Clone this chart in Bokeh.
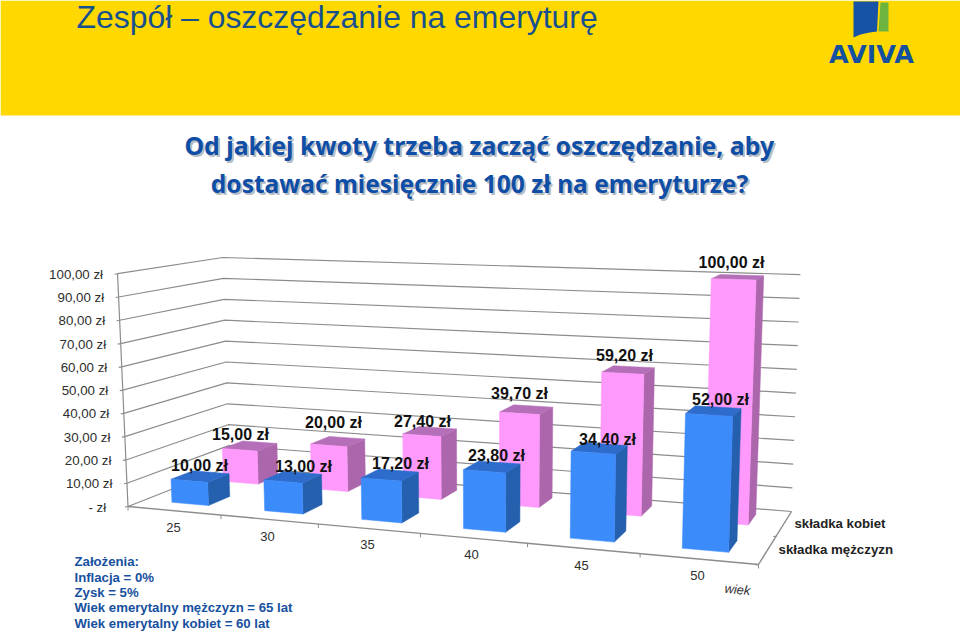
import numpy as np
from bokeh.plotting import figure, ColumnDataSource
from bokeh.models import Range1d
from bokeh.core.properties import value
from bokeh.embed import file_html
from bokeh.resources import INLINE

# ---------- data ----------
ages = ["25", "30", "35", "40", "45", "50"]
men = [10.0, 13.0, 17.2, 23.8, 34.4, 52.0]
women = [15.0, 20.0, 27.4, 39.7, 59.2, 100.0]
men_labels = ["10,00 zł", "13,00 zł", "17,20 zł", "23,80 zł", "34,40 zł", "52,00 zł"]
women_labels = ["15,00 zł", "20,00 zł", "27,40 zł", "39,70 zł", "59,20 zł", "100,00 zł"]
y_ticks = [0, 10, 20, 30, 40, 50, 60, 70, 80, 90, 100]
y_labels = ["-   zł", "10,00 zł", "20,00 zł", "30,00 zł", "40,00 zł", "50,00 zł",
            "60,00 zł", "70,00 zł", "80,00 zł", "90,00 zł", "100,00 zł"]
series_names = ["składka mężczyzn", "składka kobiet"]
header = "Zespół – oszczędzanie na emeryturę"
title_lines = ["Od jakiej kwoty trzeba  zacząć oszczędzanie, aby",
               "dostawać miesięcznie 100 zł na emeryturze?"]
notes = ["Założenia:", "Inflacja = 0%", "Zysk = 5%",
         "Wiek emerytalny mężczyzn = 65 lat", "Wiek emerytalny kobiet = 60 lat"]

# ---------- layout (page pixels) ----------
FLOOR = [(127.5, 506), (758, 564), (791, 511), (229, 466)]     # front-left, front-right, back-right, back-left
HEIGHTS = [234, 268, 238, 208]                                 # pixel height of value 100 over those corners
VANISH = (489, 8563)                                           # where the verticals meet
GAP = 0.30
MEN_DEPTH = (0.15, 0.36)
WOMEN_DEPTH = (0.66, 0.88)
men_label_xy = [(199, 465), (303, 466), (400, 463), (496, 455), (607, 439), (720, 399)]
women_label_xy = [(240, 434), (333, 422), (422, 421), (519, 393), (624, 355), (731, 262)]
age_label_xy = [(173, 527), (267, 536), (367, 544), (471, 554), (581, 565), (697, 575)]
note_y = [561, 577, 592, 607, 623]

BLUE = ("#3b8bfb", "#2d6ccb", "#2560ae")
PINK = ("#ff99fb", "#b56fb8", "#ac66ac")
BRAND = "#1450a0"
GRID = "#8c8c8c"


def homography(pts):
    src = [(0, 0), (1, 0), (1, 1), (0, 1)]
    rows = []
    for (u, v), (x, y) in zip(src, pts):
        rows.append([u, v, 1, 0, 0, 0, -u * x, -v * x, -x])
        rows.append([0, 0, 0, u, v, 1, -u * y, -v * y, -y])
    return np.linalg.svd(np.array(rows, float))[2][-1].reshape(3, 3)


H_FLOOR = homography(FLOOR)
HEIGHT_PLANE = np.linalg.lstsq(np.array([[x, y, 1] for x, y in FLOOR], float),
                               np.array(HEIGHTS, float), rcond=None)[0]


def project(cat, depth, val):
    """Category position (0..6), depth (0 front..1 back), value (0..100) -> page pixels."""
    a = H_FLOOR @ np.array([cat / 6, depth, 1.0])
    a = a[:2] / a[2]
    up = a - np.array(VANISH)
    up = up / np.hypot(*up)
    h = HEIGHT_PLANE @ np.array([a[0], a[1], 1.0])
    return tuple(a + up * h * val / 100)


def bar_faces(cat, depth, val, colors):
    u0, u1 = cat + GAP, cat + 1 - GAP
    d0, d1 = depth
    corners = {
        "front": [(u0, d0, 0), (u1, d0, 0), (u1, d0, val), (u0, d0, val)],
        "top": [(u0, d0, val), (u1, d0, val), (u1, d1, val), (u0, d1, val)],
        "side": [(u1, d0, 0), (u1, d1, 0), (u1, d1, val), (u1, d0, val)],
    }
    out = []
    for name, col in zip(("side", "top", "front"), (colors[2], colors[1], colors[0])):
        pts = [project(*c) for c in corners[name]]
        out.append(([q[0] for q in pts], [q[1] for q in pts], col))
    return out


p = figure(width=960, height=636, output_backend="svg", toolbar_location=None,
           x_range=Range1d(0, 960), y_range=Range1d(636, 0),
           x_axis_type=None, y_axis_type=None, min_border=0)
p.outline_line_color = None
p.background_fill_color = "white"
p.border_fill_color = "white"
p.grid.visible = False

# header band and logo
p.quad(left=[0], right=[960], top=[0], bottom=[115], fill_color="#ffd800", line_color=None)
p.patch([853, 878, 876.5, 869, 860, 853], [1, 1, 31, 32, 34, 37], fill_color="#1653a6", line_color=None)
p.patch([880, 888, 888, 878], [2, 2, 31, 31], fill_color="#6cb33f", line_color=None)


def label(x, y, text, size, color="#1c1c1c", style="normal", font="Liberation Sans", align="center", angle=0.0):
    p.text([x], [y], text=[text], text_font=value(font), text_font_size=f"{size}px",
           text_font_style=style, text_color=color, text_align=align,
           text_baseline="middle", angle=angle)


label(871, 53.5, "AVIVA", 25.5, BRAND, "bold", "DejaVu Sans")
label(76, 16, header, 31.9, "#16508f", align="left")

# walls and floor
for t in y_ticks:
    a = project(0, 0, t)
    b = project(0, 1, t)
    c = project(6, 1, t)
    p.line([a[0] - 3, a[0], b[0], c[0]], [a[1] + 0.5, a[1], b[1], c[1]], line_color=GRID, line_width=1.2)
a0, a1 = project(0, 0, 0), project(0, 0, 100)
p.line([a0[0], a1[0]], [a0[1], a1[1]], line_color=GRID, line_width=1.2)
front = [project(0, 0, 0), project(6, 0, 0), project(6, 1, 0)]
p.line([q[0] for q in front], [q[1] for q in front], line_color=GRID, line_width=1.4)
for i in range(7):
    q = project(i, 0, 0)
    p.line([q[0], q[0]], [q[1], q[1] + 4], line_color=GRID, line_width=1)
for d in (0, 0.5):
    q = project(6, d, 0)
    p.line([q[0] - 3, q[0]], [q[1] + 0.5, q[1]], line_color=GRID, line_width=1)

# bars: women's row behind, men's row in front
faces = []
for i, v in enumerate(women):
    faces += bar_faces(i, WOMEN_DEPTH, v, PINK)
for i, v in enumerate(men):
    faces += bar_faces(i, MEN_DEPTH, v, BLUE)
src = ColumnDataSource(dict(xs=[f[0] for f in faces], ys=[f[1] for f in faces], color=[f[2] for f in faces]))
p.patches("xs", "ys", source=src, fill_color="color", line_color="color", line_width=0.5)

# value axis labels
for t, s in zip(y_ticks, y_labels):
    q = project(0, 0, t)
    label(q[0] - 14.5, q[1] + 0.5, s, 13.3, "#2e2e2e", align="right")

# category labels
for s, (x, y) in zip(ages, age_label_xy):
    label(x, y, s, 13, "#2e2e2e")
label(737, 589, "wiek", 13, "#333333", "italic", angle=-0.09)

# series labels
label(794, 523, series_names[1], 13.2, "#222222", "bold", align="left")
label(778, 549, series_names[0], 13.3, "#222222", "bold", align="left")

# data labels
for s, (x, y) in zip(women_labels + men_labels, women_label_xy + men_label_xy):
    label(x, y, s, 16, "#111111", "bold")

# title with soft shadow
for s, x, y, size in zip(title_lines, (482, 479), (144, 183), (24.8, 24.5)):
    label(x + 2, y + 2, s, size, "#b8bcc4", "bold", "Noto Sans")
    label(x, y, s, size, "#0f4ea6", "bold", "Noto Sans")

# assumptions
for s, y in zip(notes, note_y):
    label(74, y, s, 13.2, "#17509e", "bold", align="left")

open("out.html", "w").write(file_html(p, INLINE))
